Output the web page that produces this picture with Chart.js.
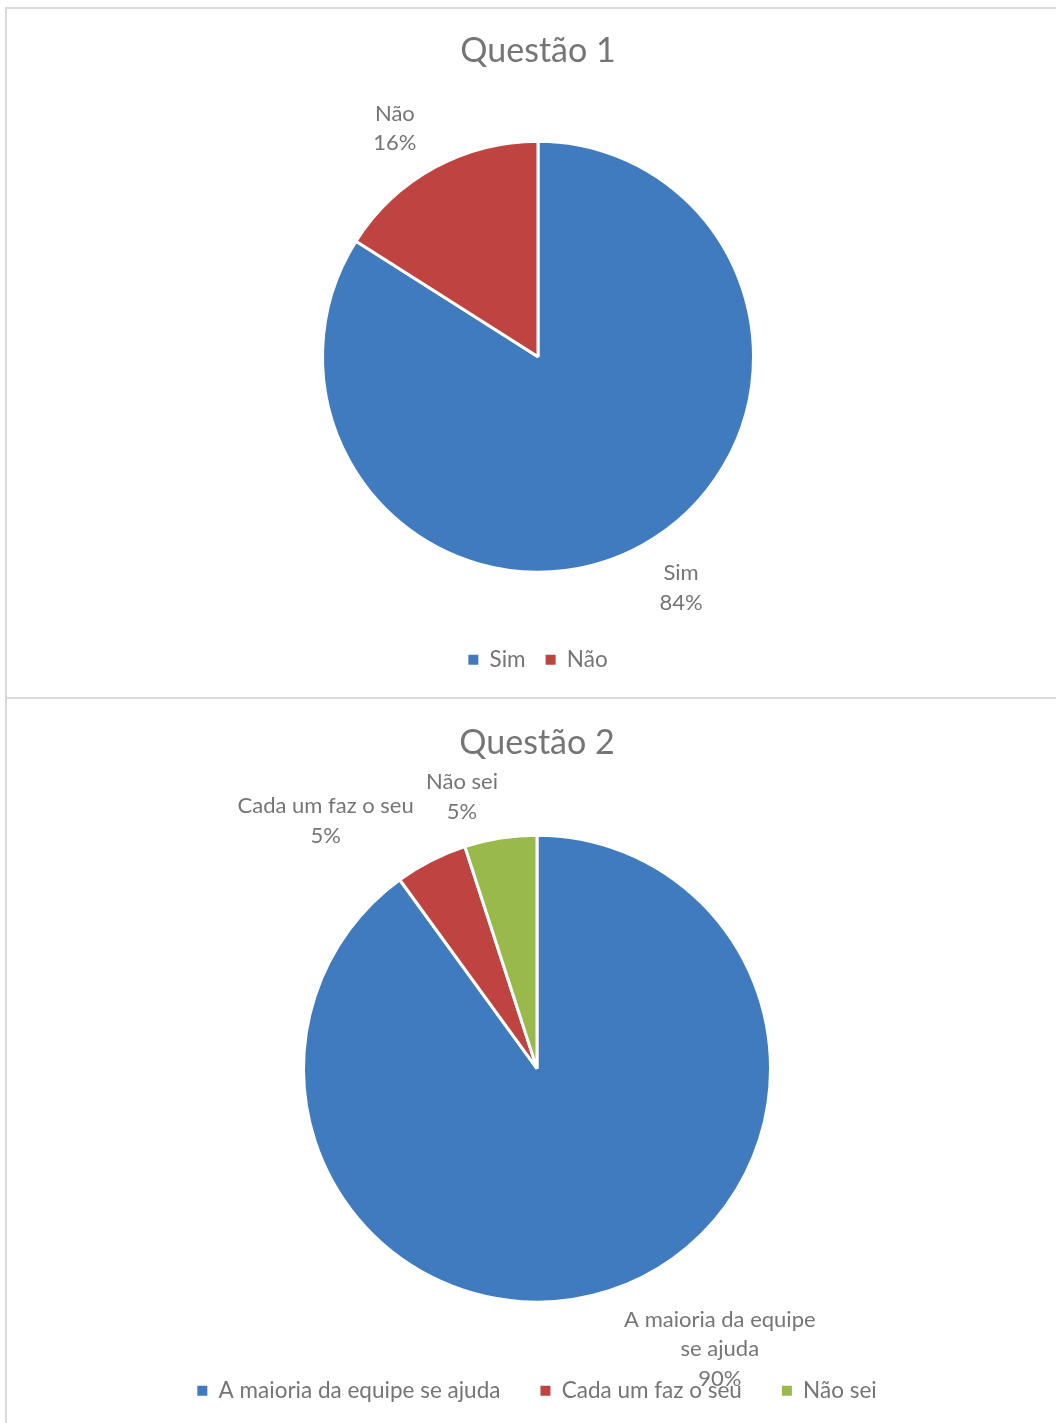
<!DOCTYPE html>
<html lang="pt">

<head>
    <meta charset="UTF-8">
    <title>Questões</title>
    <script src="https://cdn.jsdelivr.net/npm/chart.js"></script>
    <style>
        body { margin: 0; background: #fff; overflow: hidden; }
        .wrap { position: relative; width: 1056px; height: 1423px; }
        canvas { position: absolute; left: 0; }
        .line { position: absolute; background: #d9d9d9; }
    </style>
</head>

<body>
    <div class="wrap">
        <canvas id="q1" width="1056" height="698" style="top:0"></canvas>
        <canvas id="q2" width="1056" height="725" style="top:698px"></canvas>
        <div class="line" style="left:5px; top:7px; width:1051px; height:2px"></div>
        <div class="line" style="left:5px; top:7px; width:2px; height:1416px"></div>
        <div class="line" style="left:5px; top:697px; width:1051px; height:2px"></div>
    </div>

    <script>
        // answers per question
        const q1Labels = ['Sim', 'Não'];
        const q1Values = [84, 16];
        const q2Labels = ['A maioria da equipe se ajuda', 'Cada um faz o seu', 'Não sei'];
        const q2Values = [90, 5, 5];
        const sliceColors = ['#3F7BBE', '#BF4441', '#9AB94B'];

        const textColor = '#757575';
        const fontFamily = 'Lato';

        function wrapText(ctx, text, maxWidth) {
            const words = text.split(' ');
            const lines = [];
            let cur = '';
            words.forEach(w => {
                const test = cur ? cur + ' ' + w : w;
                if (cur && ctx.measureText(test).width > maxWidth) {
                    lines.push(cur);
                    cur = w;
                } else {
                    cur = test;
                }
            });
            if (cur) lines.push(cur);
            return lines;
        }

        // category + percent written outside each slice
        const outsideLabels = {
            id: 'outsideLabels',
            afterDatasetsDraw(chart) {
                const ctx = chart.ctx;
                const values = chart.data.datasets[0].data;
                const total = values.reduce((a, b) => a + b, 0);
                const lh = 29.5;
                ctx.save();
                ctx.font = '22px ' + fontFamily;
                ctx.fillStyle = textColor;
                ctx.textAlign = 'center';
                ctx.textBaseline = 'middle';
                chart.getDatasetMeta(0).data.forEach((arc, i) => {
                    const p = arc.getProps(['x', 'y', 'startAngle', 'endAngle', 'outerRadius'], true);
                    const mid = (p.startAngle + p.endAngle) / 2;
                    const dx = Math.cos(mid), dy = Math.sin(mid);
                    // push side labels a little further out horizontally
                    const push = Math.abs(dx) > 0.3 ? Math.sign(dx) * 10 : 0;
                    const px = p.x + dx * (p.outerRadius + 16) + push;
                    const py = p.y + dy * (p.outerRadius + 16);
                    const lines = wrapText(ctx, chart.data.labels[i], 200);
                    lines.push(Math.round(values[i] / total * 100) + '%');
                    const w = Math.max(...lines.map(l => ctx.measureText(l).width));
                    const h = lines.length * lh;
                    const left = dx >= 0 ? px : px - w;
                    const top = dy >= 0 ? py - 1 : py - h + 4;
                    lines.forEach((l, j) => ctx.fillText(l, left + w / 2, top + lh * j + lh / 2));
                });
                ctx.restore();
            }
        };

        // legend squares without the slice border
        function legendItems(chart) {
            const items = Chart.overrides.pie.plugins.legend.labels.generateLabels(chart);
            return items.map(it => Object.assign(it, { lineWidth: 0, strokeStyle: it.fillStyle }));
        }

        function pieChart(id, title, labels, values, radius, padding, titlePad, legendPad) {
            return new Chart(document.getElementById(id), {
                type: 'pie',
                data: {
                    labels: labels,
                    datasets: [{
                        data: values,
                        backgroundColor: sliceColors.slice(0, values.length),
                        borderColor: '#ffffff',
                        borderWidth: 3,
                        radius: radius
                    }]
                },
                options: {
                    responsive: false,
                    animation: false,
                    layout: { padding: padding },
                    plugins: {
                        title: {
                            display: true,
                            text: title,
                            color: textColor,
                            font: { family: fontFamily, size: 34, weight: 'normal' },
                            padding: titlePad
                        },
                        legend: {
                            position: 'bottom',
                            labels: {
                                boxWidth: 10,
                                boxHeight: 10,
                                color: textColor,
                                font: { family: fontFamily, size: 22.5 },
                                padding: legendPad,
                                generateLabels: legendItems
                            }
                        },
                        tooltip: { enabled: false }
                    }
                },
                plugins: [outsideLabels]
            });
        }

        pieChart('q1', 'Questão 1', q1Labels, q1Values, 215.5,
            { left: 20, right: 0, top: 0, bottom: 17 }, { top: 31, bottom: 13 }, 20);
        pieChart('q2', 'Questão 2', q2Labels, q2Values, 233.5,
            { left: 18, right: 0, top: 0, bottom: 11 }, { top: 25, bottom: 34 }, 40);
    </script>
</body>

</html>
